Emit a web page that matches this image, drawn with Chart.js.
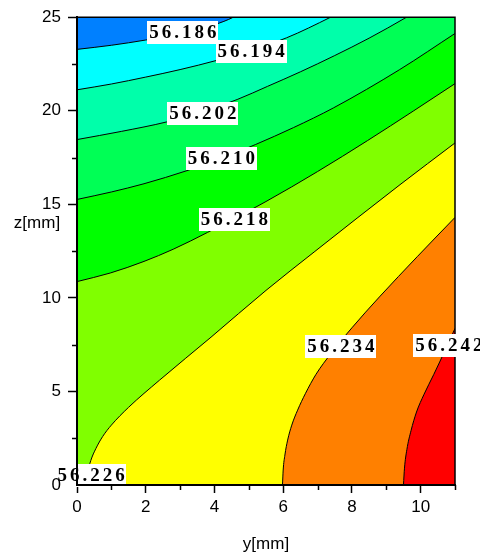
<!DOCTYPE html>
<html>
<head>
<meta charset="utf-8">
<script src="https://cdn.jsdelivr.net/npm/chart.js@4.4.1/dist/chart.umd.min.js"></script>
<style>
  html, body { margin: 0; padding: 0; background: #ffffff; }
  canvas { display: block; }
</style>
</head>
<body>
<canvas id="c" width="480" height="556"></canvas>
<script>
// Contour levels (lowest to highest) and the band colours above each level.
const levels = ['56.186', '56.194', '56.202', '56.210', '56.218', '56.226', '56.234', '56.242'];
const lowestBandColor = '#0080ff';
const bandColors = ['#00ffff', '#00ffaa', '#00ff55', '#00ff00', '#80ff00', '#ffff00', '#ff8000', '#ff0000'];

// Iso-lines as [y, z] pairs in mm. Lines that leave through the top edge
// run on a little past z = 25 and then across to the right edge (clipped away),
// so the band below them is filled all the way across.
const line186 = [[0, 23.28], [1, 23.5], [2, 23.78], [3, 24.12], [4, 24.6], [4.55, 25], [4.9, 25.4], [11, 25.4]];
const line194 = [[0, 21.12], [1, 21.43], [2, 21.8], [3, 22.2], [4.08, 22.7], [5, 23.2], [6.1, 23.9], [7.38, 25], [7.8, 25.4], [11, 25.4]];
const line202 = [[0, 18.46], [1.3, 18.9], [2.6, 19.4], [3.7, 19.98], [4.66, 20.6], [5.54, 21.3], [6.5, 22.08], [7.5, 22.95], [8.5, 23.88], [9.59, 25], [9.95, 25.4], [11, 25.4]];
const line210 = [[0, 15.26], [1, 15.66], [1.95, 16.1], [3.2, 16.8], [4.2, 17.45], [5.2, 18.2], [6.3, 19.1], [7.46, 20.15], [9.39, 22.2], [11, 24.13]];
const line218 = [[0, 10.87], [0.97, 11.33], [1.95, 11.95], [2.8, 12.6], [3.8, 13.5], [5.5, 15.15], [7, 16.75], [8.45, 18.4], [9.8, 20.0], [11, 21.45]];
const line226 = [[0.25, 0], [0.3, 0.6], [0.4, 1.3], [0.55, 1.95], [0.75, 2.6], [1.0, 3.2], [1.5, 4.15], [2.4, 5.6], [3.9, 7.9], [5.5, 10.4], [6.9, 12.45], [9.4, 16.05], [11, 18.28]];
const line234 = [[5.98, 0], [6.0, 0.8], [6.05, 1.6], [6.13, 2.4], [6.25, 3.2], [6.42, 4.0], [6.65, 4.9], [6.95, 5.9], [7.4, 7.05], [8.0, 8.4], [8.8, 10.05], [9.9, 12.2], [11, 14.3]];
const line242 = [[9.5, 0], [9.53, 0.9], [9.6, 1.9], [9.72, 2.9], [9.88, 3.9], [10.1, 4.85], [10.38, 5.9], [10.7, 7.15], [11, 8.37]];
const isoLines = [line186, line194, line202, line210, line218, line226, line234, line242];

// Where each level's value is written, [y, z] in mm.
const labelSpots = [[3.08, 24.2], [5.07, 23.19], [3.66, 19.88], [4.2, 17.48], [4.58, 14.21], [0.41, 0.53], [7.68, 7.44], [10.82, 7.49]];

// Axis ranges and ticks.
const yRange = [0, 11];
const zRange = [0, 25];
const yMajorStep = 2;
const zMajorStep = 5;
const yMinorTicks = [1, 3, 5, 7, 9, 11];
const zMinorTicks = [2.5, 7.5, 12.5, 17.5, 22.5];
const xTitle = 'y[mm]';
const yTitle = 'z[mm]';

const toPoints = arr => arr.map(([x, y]) => ({ x, y }));

const datasets = [];
// Whole-field background: the band below the lowest level.
datasets.push({
  label: '< ' + levels[0],
  data: toPoints([[yRange[0], zRange[1]], [yRange[1], zRange[1]]]),
  backgroundColor: lowestBandColor,
  borderWidth: 0,
  borderColor: 'rgba(0,0,0,0)',
  fill: 'start',
  pointRadius: 0,
  order: 100
});
isoLines.forEach((pts, i) => {
  datasets.push({
    label: levels[i],
    data: toPoints(pts),
    backgroundColor: bandColors[i],
    borderColor: '#000000',
    borderWidth: 1,
    fill: 'start',
    cubicInterpolationMode: 'monotone',
    capBezierPoints: false,
    pointRadius: 0,
    order: 90 - i
  });
});

const tickFont = { family: '"Liberation Sans", Arial, sans-serif', size: 17 };

const overlay = {
  id: 'overlay',
  afterDatasetsDraw(chart) {
    const { ctx, chartArea: a, scales } = chart;
    const xs = scales.x, ys = scales.y;
    ctx.save();
    // top and right edges of the frame
    ctx.strokeStyle = '#000';
    ctx.lineWidth = 1.5;
    ctx.beginPath();
    ctx.moveTo(a.left, a.top);
    ctx.lineTo(a.right, a.top);
    ctx.lineTo(a.right, a.bottom);
    ctx.stroke();

    // level labels on white boxes
    ctx.font = 'bold 19px "Liberation Serif", "Times New Roman", serif';
    ctx.textBaseline = 'middle';
    const spacing = 3;
    levels.forEach((txt, i) => {
      const cx = xs.getPixelForValue(labelSpots[i][0]);
      const cy = ys.getPixelForValue(labelSpots[i][1]);
      const widths = [...txt].map(ch => ctx.measureText(ch).width);
      const total = widths.reduce((s, w) => s + w, 0) + spacing * (widths.length - 1);
      ctx.fillStyle = '#ffffff';
      ctx.fillRect(Math.round(cx - total / 2 - 2), Math.round(cy - 11), Math.round(total + 4), 23);
      ctx.fillStyle = '#000000';
      ctx.textAlign = 'left';
      let x = cx - total / 2;
      [...txt].forEach((ch, k) => {
        ctx.fillText(ch, x, cy + 1);
        x += widths[k] + spacing;
      });
    });
    ctx.restore();
  },
  afterDraw(chart) {
    const { ctx, chartArea: a, scales } = chart;
    const xs = scales.x, ys = scales.y;
    ctx.save();
    // minor ticks
    ctx.strokeStyle = '#000';
    ctx.lineWidth = 1.5;
    ctx.beginPath();
    yMinorTicks.forEach(v => {
      const px = Math.round(xs.getPixelForValue(v)) + 0.5;
      ctx.moveTo(px, a.bottom);
      ctx.lineTo(px, a.bottom + 5);
    });
    zMinorTicks.forEach(v => {
      const py = Math.round(ys.getPixelForValue(v)) + 0.5;
      ctx.moveTo(a.left, py);
      ctx.lineTo(a.left - 5, py);
    });
    ctx.stroke();

    // horizontal title of the vertical axis
    ctx.fillStyle = '#000';
    ctx.font = '17px "Liberation Sans", Arial, sans-serif';
    ctx.textAlign = 'center';
    ctx.textBaseline = 'middle';
    ctx.fillText(yTitle, 37, 223);
    ctx.restore();
  }
};

new Chart(document.getElementById('c'), {
  type: 'line',
  data: { datasets },
  options: {
    responsive: false,
    animation: false,
    events: [],
    layout: { padding: { left: 0, top: 16, right: 25, bottom: 0 } },
    plugins: { legend: { display: false }, tooltip: { enabled: false } },
    scales: {
      x: {
        type: 'linear',
        min: yRange[0],
        max: yRange[1],
        afterFit: s => { s.height = 71; },
        ticks: { stepSize: yMajorStep, includeBounds: false, color: '#000', font: tickFont, padding: 4, maxRotation: 0, z: 1 },
        grid: { drawOnChartArea: false, drawTicks: true, tickLength: 8, tickWidth: 1.5, tickColor: '#000' },
        border: { display: true, color: '#000', width: 2, z: 1 },
        title: { display: true, text: xTitle, color: '#000', font: tickFont, padding: { top: 0, bottom: 1 } }
      },
      y: {
        type: 'linear',
        min: zRange[0],
        max: zRange[1],
        afterFit: s => { s.width = 77; },
        ticks: { stepSize: zMajorStep, color: '#000', font: tickFont, padding: 7, z: 1 },
        grid: { drawOnChartArea: false, drawTicks: true, tickLength: 9, tickWidth: 1.5, tickColor: '#000' },
        border: { display: true, color: '#000', width: 2, z: 1 }
      }
    }
  },
  plugins: [overlay]
});
</script>
</body>
</html>
